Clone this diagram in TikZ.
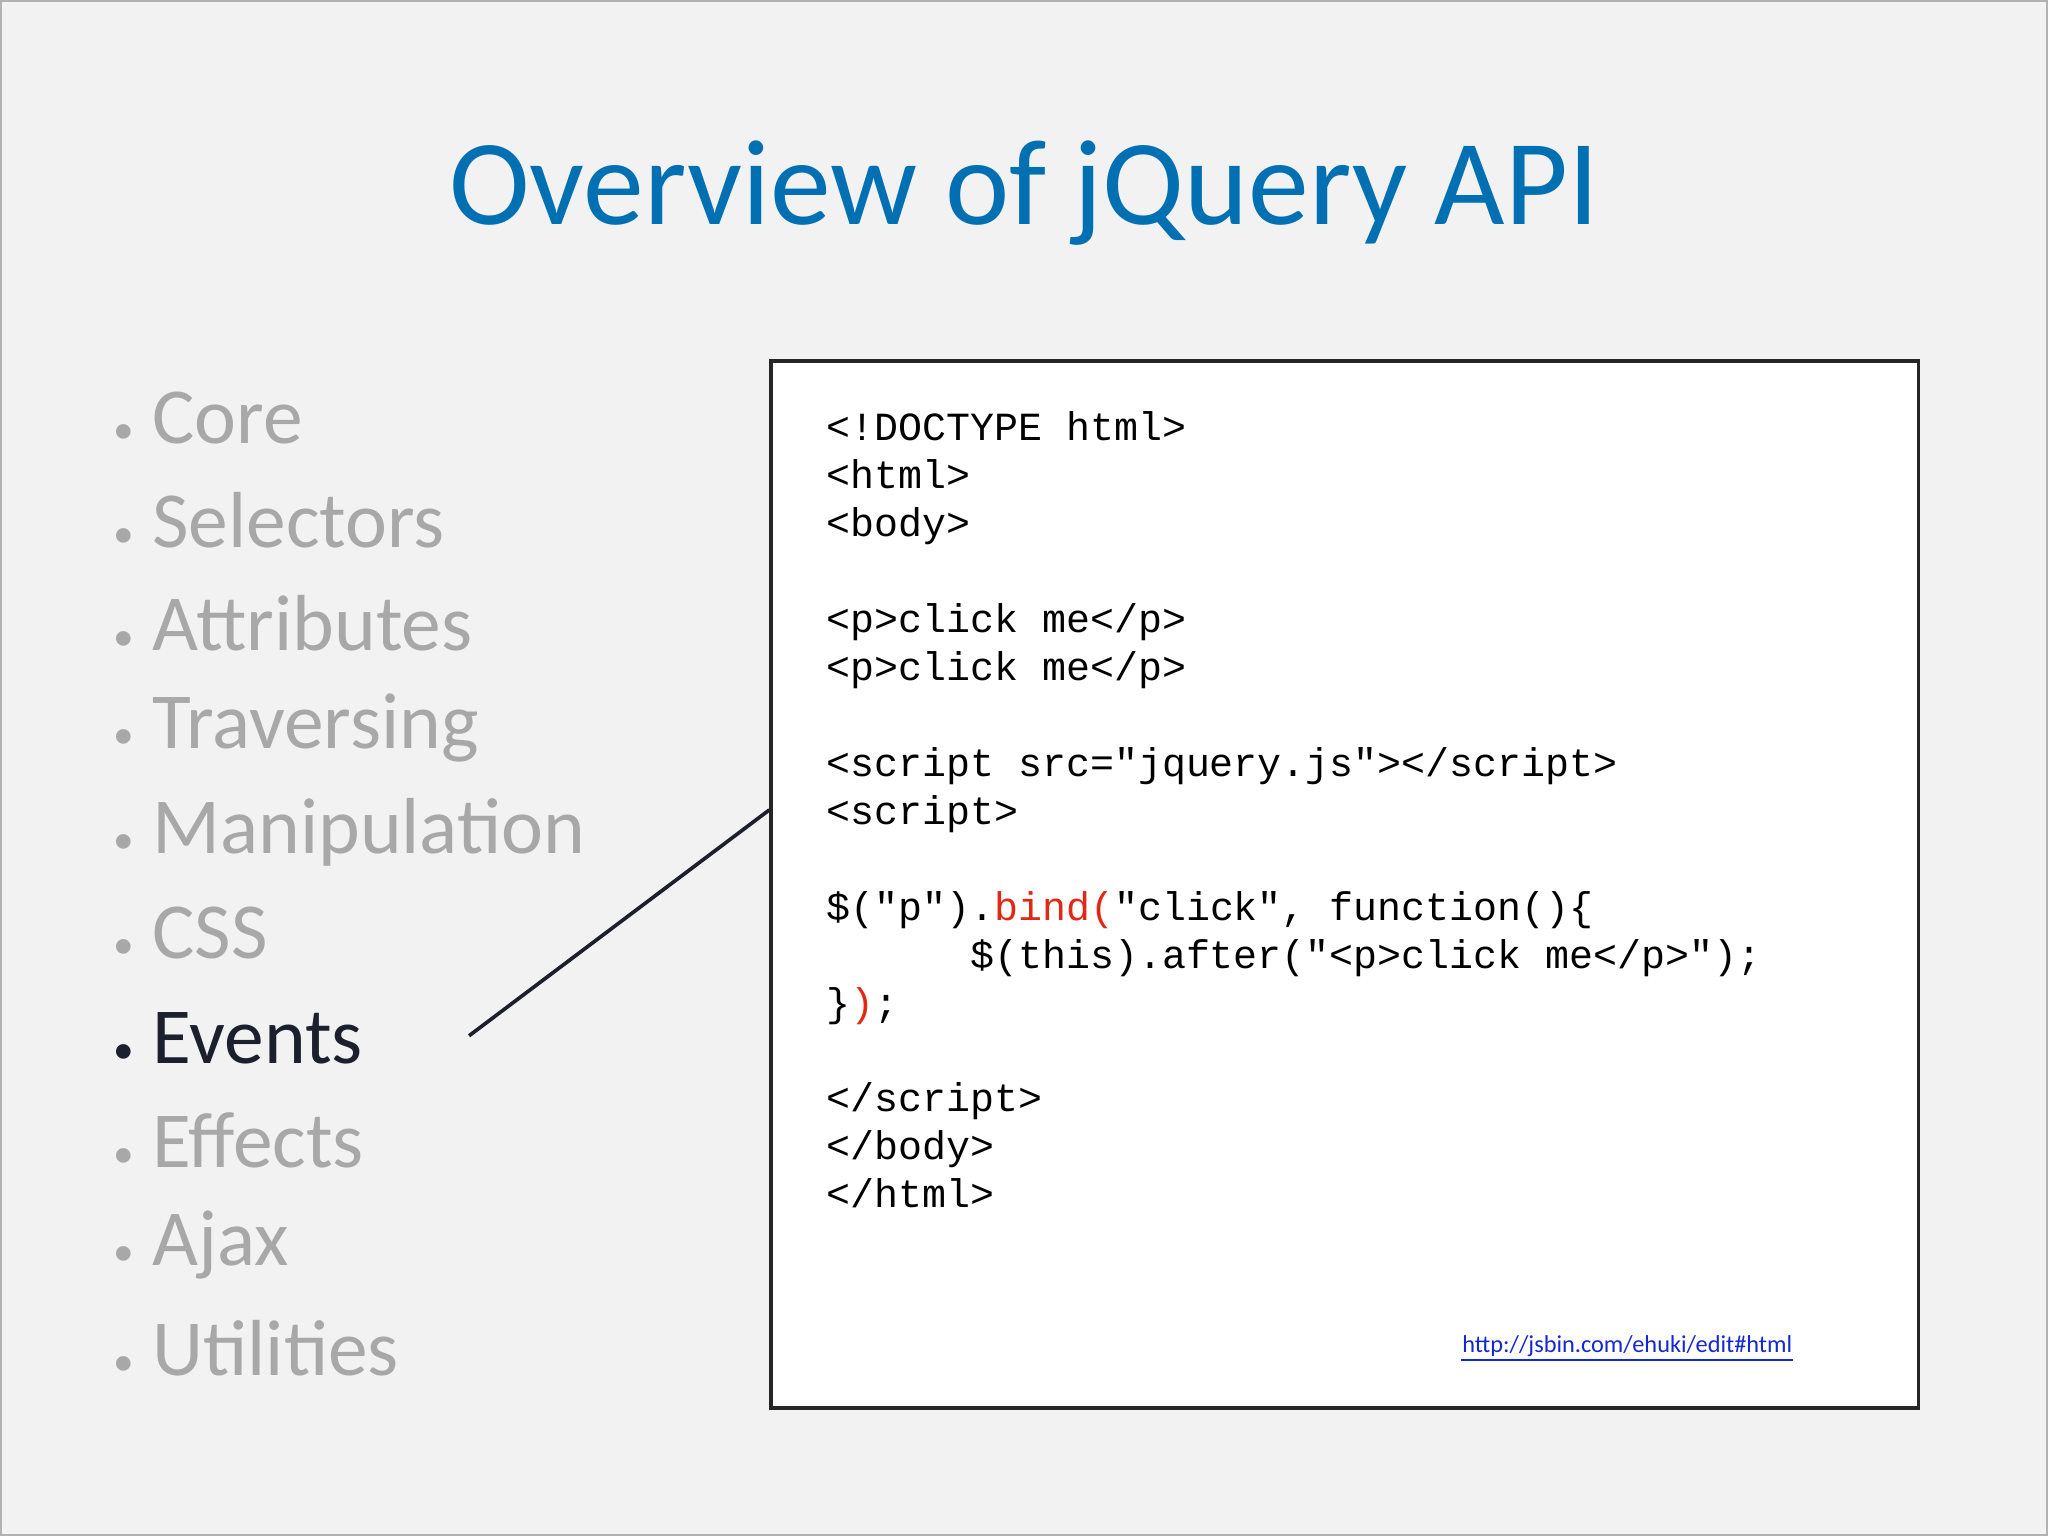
\documentclass[tikz,border=0pt]{standalone}
\usepackage{fontspec}
\setmainfont{Carlito}
\setmonofont{Liberation Mono}
\definecolor{bg}{RGB}{242,242,242}
\definecolor{titleblue}{RGB}{0,112,178}
\definecolor{itemgray}{RGB}{168,168,168}
\definecolor{itemdark}{RGB}{28,32,45}
\definecolor{codered}{RGB}{225,40,20}
\definecolor{linkblue}{RGB}{20,40,210}
\tikzset{
  item/.style={anchor=west,inner sep=0pt,font=\fontsize{17.3}{20}\selectfont,text=itemgray},
  codebox/.style={draw=black!85,line width=0.8pt,fill=white,anchor=north west,inner sep=0pt,minimum width=8.78cm,minimum height=8.01cm},
  codetext/.style={anchor=north west,inner sep=0pt,align=left,font=\ttfamily\fontsize{8.7}{10.45}\selectfont}
}
\begin{document}
\begin{tikzpicture}[x=0.01cm,y=-0.01cm]
\fill[bg] (0,0) rectangle (1568,1176);
\draw[black!30] (0.5,0.5) rectangle (1567.5,1175.5);
\node[inner sep=0pt,font=\fontsize{26.5}{30}\selectfont,text=titleblue] (title) at (784,148) {Overview of jQuery API};
\foreach \t/\y [count=\i] in {Core/320,Selectors/398,Attributes/477,Traversing/557,Manipulation/637,CSS/714}
  \node[item] (it\i) at (86,\y) {{\small•}\hspace{4pt}\t};
\node[item,text=itemdark] (events) at (86,795) {{\small•}\hspace{4pt}Events};
\foreach \t/\y [count=\i from 8] in {Effects/873,Ajax/953,Utilities/1032}
  \node[item] (it\i) at (86,\y) {{\small•}\hspace{4pt}\t};
\node[codebox] (box) at (589,275) {};
\node[codetext] (code) at (632,314) {<!DOCTYPE html>\\<html>\\<body>\\\mbox{}\\<p>click me</p>\\<p>click me</p>\\\mbox{}\\<script src="jquery.js"></script>\\<script>\\\mbox{}\\\$("p").\textcolor{codered}{bind(}"click", function()\{\\\phantom{XXXXXX}\$(this).after("<p>click me</p>");\\\}\textcolor{codered}{)};\\\mbox{}\\</script>\\</body>\\</html>};
\node[inner sep=0pt,font=\fontsize{5.3}{6}\selectfont,text=linkblue,anchor=east] (link) at (1373,1031) {http://jsbin.com/ehuki/edit\#html};
\draw[linkblue,line width=0.4pt] ([yshift=-0.5pt]link.south west) -- ([yshift=-0.5pt]link.south east);
\coordinate (a) at (359,793);
\coordinate (b) at (box.west |- 0,620);
\draw[itemdark,line width=0.8pt] (a) -- (b);
\end{tikzpicture}
\end{document}
